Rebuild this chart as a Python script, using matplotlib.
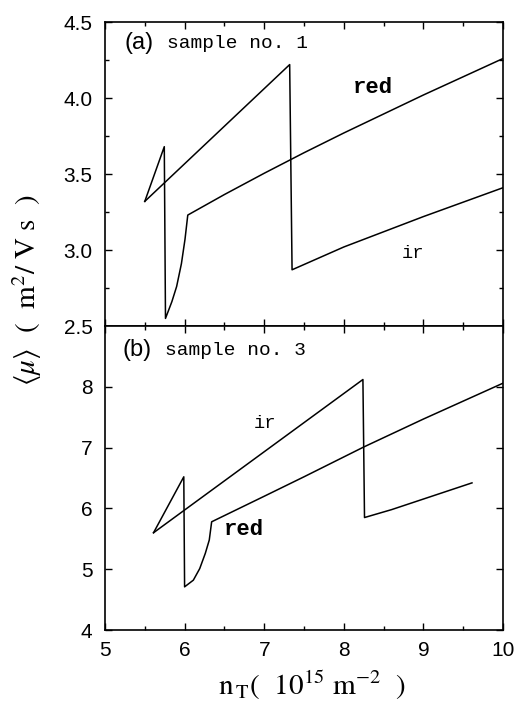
import numpy as np
import matplotlib.pyplot as plt
from matplotlib.ticker import MultipleLocator

# (a) sample no. 1
a_ir_x = [5.50, 7.32, 7.35, 8.0, 9.0, 10.0]
a_ir_y = [3.32, 4.22, 2.87, 3.02, 3.22, 3.41]
a_red_x = [5.50, 5.745, 5.76, 5.84, 5.90, 5.96, 6.005, 6.04, 6.5, 7.0, 7.5, 8.0, 8.5, 9.0, 9.5, 10.0]
a_red_y = [3.32, 3.68, 2.55, 2.66, 2.76, 2.91, 3.07, 3.23, 3.365, 3.505, 3.64, 3.77, 3.895, 4.02, 4.14, 4.26]

# (b) sample no. 3
b_ir_x = [5.61, 8.24, 8.26, 8.6, 9.61]
b_ir_y = [5.60, 8.12, 5.85, 5.98, 6.42]
b_red_x = [5.61, 5.99, 6.0, 6.11, 6.19, 6.26, 6.31, 6.34, 7.0, 7.5, 8.25, 9.0, 10.0]
b_red_y = [5.60, 6.52, 4.71, 4.82, 5.01, 5.26, 5.48, 5.78, 6.20, 6.52, 7.01, 7.47, 8.06]

plt.rcParams['mathtext.fontset'] = 'stix'

fig = plt.figure(figsize=(5.21, 7.04), dpi=100)
ax1 = fig.add_axes([0.2015, 0.5369, 0.764, 0.4318])
ax2 = fig.add_axes([0.2015, 0.1051, 0.764, 0.4318])

for ax in (ax1, ax2):
    ax.set_xlim(5, 10)
    ax.xaxis.set_major_locator(MultipleLocator(1))
    ax.xaxis.set_minor_locator(MultipleLocator(0.5))
    ax.tick_params(which='both', direction='in', top=True, right=True, width=1.0)
    ax.tick_params(which='major', length=5)
    ax.tick_params(which='minor', length=3)
    ax.tick_params(axis='y', labelsize=15, pad=9)
    ax.tick_params(axis='x', labelsize=15, pad=8)
    for s in ax.spines.values():
        s.set_linewidth(1.2)

ax1.plot(a_ir_x, a_ir_y, color='black', lw=1.1)
ax1.plot(a_red_x, a_red_y, color='black', lw=1.1)
ax1.set_ylim(2.5, 4.5)
ax1.yaxis.set_major_locator(MultipleLocator(0.5))
ax1.yaxis.set_minor_locator(MultipleLocator(0.25))
ax1.yaxis.set_major_formatter(plt.FormatStrFormatter('%.1f'))
ax1.tick_params(axis='x', labelbottom=False)
ax1.text(0.048, 0.931, '(a)', transform=ax1.transAxes, fontsize=17,
         family='Liberation Sans', va='center')
ax1.text(0.155, 0.931, 'sample no. 1', transform=ax1.transAxes, fontsize=14,
         family='Liberation Mono', va='center')
ax1.text(8.37, 4.07, 'red', fontsize=16, family='Liberation Mono',
         weight='bold', ha='center', va='center')
ax1.text(8.87, 2.98, 'ir', fontsize=13.5, family='Liberation Mono',
         ha='center', va='center')

ax2.plot(b_ir_x, b_ir_y, color='black', lw=1.1)
ax2.plot(b_red_x, b_red_y, color='black', lw=1.1)
ax2.set_ylim(4, 9)
ax2.set_yticks([4, 5, 6, 7, 8])
ax2.text(0.043, 0.921, '(b)', transform=ax2.transAxes, fontsize=17,
         family='Liberation Sans', va='center')
ax2.text(0.15, 0.921, 'sample no. 3', transform=ax2.transAxes, fontsize=14,
         family='Liberation Mono', va='center')
ax2.text(6.75, 5.66, 'red', fontsize=16, family='Liberation Mono',
         weight='bold', ha='center', va='center')
ax2.text(7.01, 7.39, 'ir', fontsize=13.5, family='Liberation Mono',
         ha='center', va='center')

for lab in ax1.get_yticklabels() + ax2.get_xticklabels() + ax2.get_yticklabels():
    lab.set_fontfamily('Liberation Sans')

fig.text(0.052, 0.588, r'$\langle\mu\rangle$  (  m$^2$/ V s  )', rotation=90,
         fontsize=21, family='STIXGeneral', ha='center', va='center')
fig.text(0.598, 0.027, r'n$_{\,\rm T}$(  10$^{15}$ m$^{-2}$  )', fontsize=21,
         family='STIXGeneral', ha='center', va='center')

fig.savefig('out.png', dpi=100)
